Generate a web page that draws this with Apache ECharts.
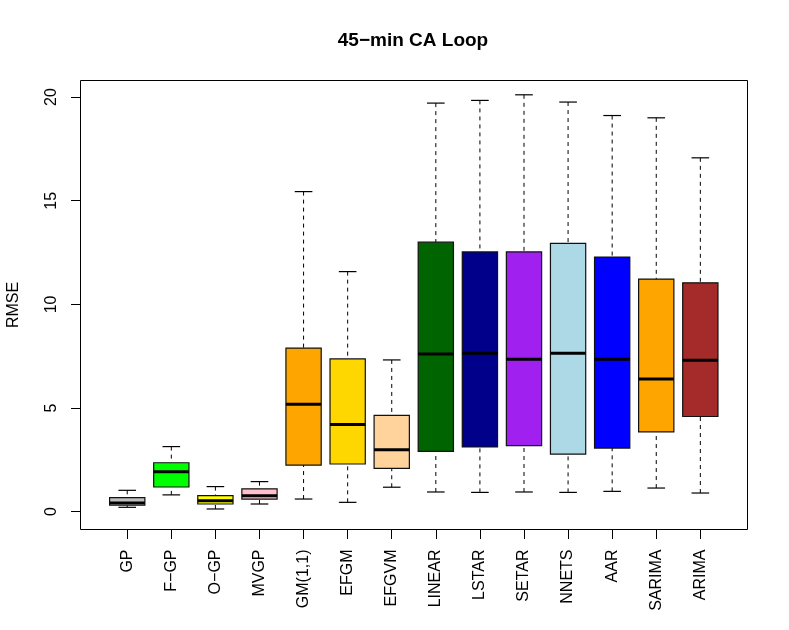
<!DOCTYPE html>
<html>
<head>
<meta charset="utf-8">
<script src="https://cdn.jsdelivr.net/npm/echarts@6/dist/echarts.min.js"></script>
<style>
html,body{margin:0;padding:0;background:#fff;}
#chart{width:789px;height:630px;}
</style>
</head>
<body>
<div id="chart"></div>
<script>
// ---- data ----
var categories = ['GP','F\u2212GP','O\u2212GP','MVGP','GM(1,1)','EFGM','EFGVM','LINEAR','LSTAR','SETAR','NNETS','AAR','SARIMA','ARIMA'];
var lowWhisker  = [0.21, 0.81, 0.13, 0.37, 0.61, 0.45, 1.18, 0.95, 0.93, 0.95, 0.93, 0.98, 1.14, 0.90];
var q1Values    = [0.31, 1.19, 0.37, 0.61, 2.25, 2.30, 2.09, 2.91, 3.12, 3.19, 2.78, 3.07, 3.85, 4.59];
var medians     = [0.42, 1.93, 0.53, 0.77, 5.18, 4.20, 2.99, 7.61, 7.64, 7.35, 7.64, 7.35, 6.40, 7.31];
var q3Values    = [0.68, 2.36, 0.77, 1.10, 7.89, 7.37, 4.65, 13.00, 12.53, 12.53, 12.94, 12.28, 11.22, 11.04];
var highWhisker = [1.03, 3.14, 1.21, 1.45, 15.44, 11.58, 7.32, 19.71, 19.84, 20.11, 19.76, 19.11, 19.00, 17.07];
var yTickValues = [0, 5, 10, 15, 20];
var chartTitle = '45\u2212min CA Loop';
var yAxisTitle = 'RMSE';

// ---- styles ----
var boxColors = ['#BEBEBE','#00FF00','#FFFF00','#FFC0CB','#FFA500','#FFD700','#FFD39B','#006400','#00008B','#A020F0','#ADD8E6','#0000FF','#FFA500','#A52A2A'];
var FONT = '"Liberation Sans", Arial, Helvetica, sans-serif';

var boxData = categories.map(function (c, i) {
  return [i, lowWhisker[i], q1Values[i], medians[i], q3Values[i], highWhisker[i]];
});
var xTickValues = categories.map(function (c, i) { return i; });

var chart = echarts.init(document.getElementById('chart'), null, {renderer: 'canvas'});

chart.setOption({
  animation: false,
  backgroundColor: '#ffffff',
  graphic: [{
    type: 'text',
    x: 413,
    y: 41,
    style: {
      text: chartTitle,
      fill: '#000',
      font: 'bold 19px ' + FONT,
      textAlign: 'center',
      textVerticalAlign: 'middle'
    }
  }],
  grid: {
    left: 80.5, top: 80.5, right: 41.5, bottom: 100.5,
    containLabel: false,
    outerBoundsMode: 'none',
    show: true, borderColor: '#000', borderWidth: 1, backgroundColor: 'transparent'
  },
  xAxis: {
    type: 'value',
    min: -1.06, max: 14.07,
    axisLine: {show: false, onZero: false},
    splitLine: {show: false},
    axisTick: {show: true, inside: false, customValues: xTickValues, length: 9.5, lineStyle: {color: '#000', width: 1}},
    axisLabel: {
      show: true,
      customValues: xTickValues,
      rotate: 90,
      margin: 20,
      fontSize: 16,
      fontFamily: FONT,
      color: '#000',
      formatter: function (v) { return categories[Math.round(v)]; }
    }
  },
  yAxis: {
    type: 'value',
    min: -0.86, max: 20.80,
    name: yAxisTitle,
    nameLocation: 'middle',
    nameRotate: 90,
    nameGap: 59,
    nameTextStyle: {fontSize: 16, fontFamily: FONT, color: '#000'},
    axisLine: {show: false, onZero: false},
    splitLine: {show: false},
    axisTick: {show: true, inside: false, customValues: yTickValues, length: 9.5, lineStyle: {color: '#000', width: 1}},
    axisLabel: {
      show: true,
      customValues: yTickValues,
      rotate: 90,
      margin: 21,
      fontSize: 16,
      fontFamily: FONT,
      color: '#000'
    }
  },
  series: [{
    type: 'custom',
    data: boxData,
    encode: {x: 0, y: [1, 2, 3, 4, 5]},
    renderItem: function (params, api) {
      var x = api.value(0);
      var lo = api.coord([x, api.value(1)]);
      var q1 = api.coord([x, api.value(2)]);
      var md = api.coord([x, api.value(3)]);
      var q3 = api.coord([x, api.value(4)]);
      var hi = api.coord([x, api.value(5)]);
      var bw = api.size([0.8, 0])[0];
      var cw = api.size([0.4, 0])[0];
      var cx = lo[0];
      var color = boxColors[params.dataIndex];
      var dash = {stroke: '#000', lineWidth: 1, lineDash: [4, 4]};
      var solid = {stroke: '#000', lineWidth: 1.2};
      return {
        type: 'group',
        children: [
          {type: 'line', shape: {x1: cx, y1: hi[1], x2: cx, y2: q3[1]}, style: dash},
          {type: 'line', shape: {x1: cx, y1: lo[1], x2: cx, y2: q1[1]}, style: dash},
          {type: 'line', shape: {x1: cx - cw / 2, y1: hi[1], x2: cx + cw / 2, y2: hi[1]}, style: solid},
          {type: 'line', shape: {x1: cx - cw / 2, y1: lo[1], x2: cx + cw / 2, y2: lo[1]}, style: solid},
          {type: 'rect', shape: {x: cx - bw / 2, y: q3[1], width: bw, height: q1[1] - q3[1]},
            style: {fill: color, stroke: '#111', lineWidth: 1.2}},
          {type: 'line', shape: {x1: cx - bw / 2, y1: md[1], x2: cx + bw / 2, y2: md[1]},
            style: {stroke: '#000', lineWidth: 3}}
        ]
      };
    }
  }]
});
</script>
</body>
</html>
